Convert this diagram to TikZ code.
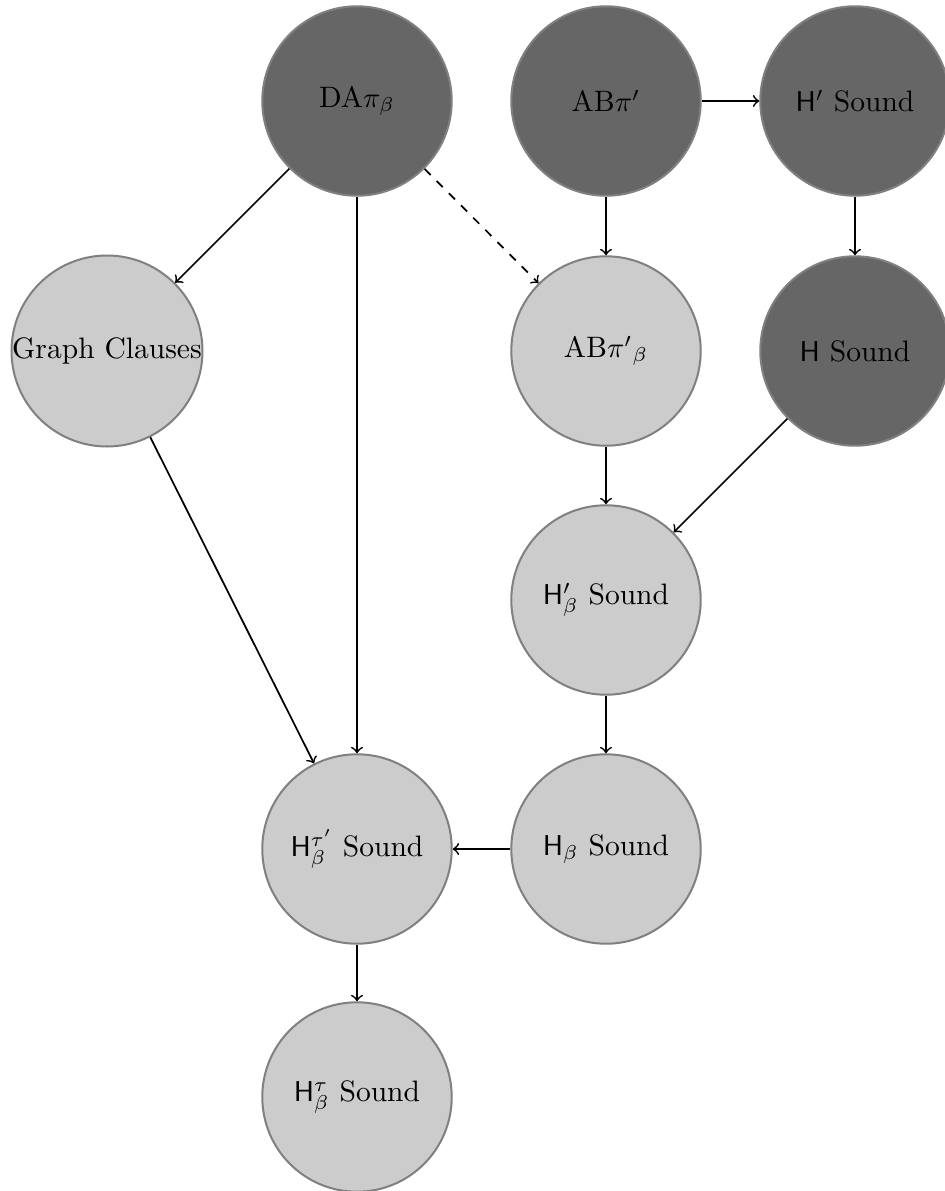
\documentclass[tikz,border=0pt]{standalone}
\begin{document}
\begin{tikzpicture}[x=0.3484pt,y=-0.3484pt,
  base/.style={circle,draw=gray,line width=0.7pt,minimum size=66pt,inner sep=0pt,font=\fontsize{10.3}{12}\selectfont},
  dark/.style={base,fill=black!60},
  light/.style={base,fill=black!20},
  arr/.style={->,line width=0.6pt},
  darr/.style={->,dashed,line width=0.6pt}]
\useasboundingbox (0,0) rectangle (945,1191);
\node[dark] (da) at (357,101) {DA$\pi_\beta$};
\node[dark] (ab) at (606,101) {AB$\pi'$};
\node[dark] (hp) at (855,101) {$\mathsf{H}'$ Sound};
\node[light] (gc) at (107,351) {Graph Clauses};
\node[light] (abb) at (606,351) {AB${\pi'}_\beta$};
\node[dark] (h) at (855,351) {$\mathsf{H}$ Sound};
\node[light] (hpb) at (606,600) {$\mathsf{H}'_\beta$ Sound};
\node[light] (htpb) at (357,849) {$\mathsf{H}^{\tau'}_\beta$ Sound};
\node[light] (hb) at (606,849) {$\mathsf{H}_\beta$ Sound};
\node[light] (htb) at (357,1097) {$\mathsf{H}^{\tau}_\beta$ Sound};
\draw[arr] (da) -- (gc);
\draw[arr] (da) -- (htpb);
\draw[darr] (da) -- (abb);
\draw[arr] (ab) -- (abb);
\draw[arr] (ab) -- (hp);
\draw[arr] (hp) -- (h);
\draw[arr] (h) -- (hpb);
\draw[arr] (abb) -- (hpb);
\draw[arr] (gc) -- (htpb);
\draw[arr] (hpb) -- (hb);
\draw[arr] (hb) -- (htpb);
\draw[arr] (htpb) -- (htb);
\end{tikzpicture}
\end{document}
